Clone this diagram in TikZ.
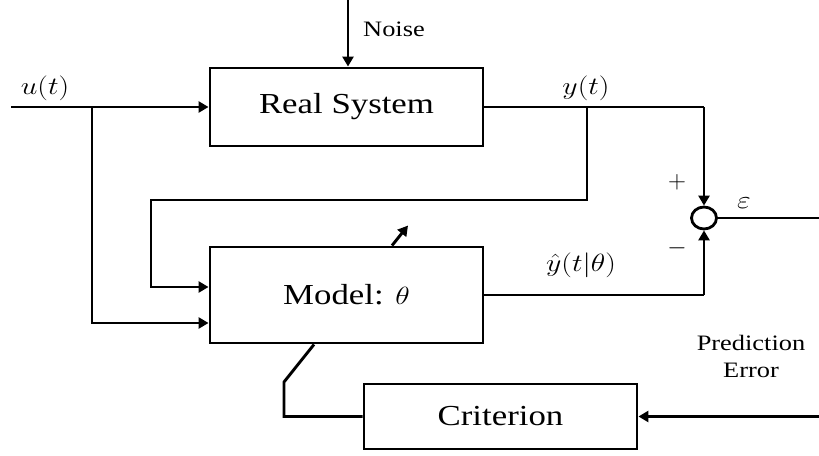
\documentclass[tikz,border=0pt]{standalone}
\usepackage{fontspec}
\usepackage{graphicx}
\setmainfont{Liberation Serif}
\usetikzlibrary{arrows.meta,shapes.geometric,calc}
\newcommand\wtxt[1]{\scalebox{1.2}[1]{#1}}
\tikzset{
  ln/.style={line width=2.9pt},
  arr/.style={ln,-{Triangle[length=10pt,width=11pt]}},
  blk/.style={draw,line width=2.9pt,rectangle,inner sep=0pt,font=\fontsize{29}{34}\selectfont},
  lbl/.style={inner sep=0pt,font=\fontsize{22}{27}\selectfont},
  mlbl/.style={inner sep=0pt,font=\fontsize{26}{30}\selectfont},
}
\begin{document}
\begin{tikzpicture}[x=1pt,y=-1pt]
\useasboundingbox (0,0) rectangle (819,455);
% blocks
\node[blk,minimum width=273pt,minimum height=78pt] (real) at (346.5,107) {\wtxt{Real System}};
\node[blk,minimum width=273pt,minimum height=96pt] (model) at (346.5,295) {\wtxt{Model: $\theta$}};
\node[blk,minimum width=273pt,minimum height=65pt] (crit) at (500.5,416.5) {\wtxt{Criterion}};
\node[draw,ellipse,line width=2.8pt,minimum width=25pt,minimum height=22pt,inner sep=0pt] (sum) at (704,218) {};
% coordinates
\coordinate (noisetop) at (348,0);
\coordinate (uin) at (11,107);
\coordinate (ju) at (92,107);
\coordinate (jy) at (587,107);
\coordinate (ycorner) at (704,107);
\coordinate (fb1) at (587,200);
\coordinate (fb2) at (151,200);
\coordinate (mcorner) at (704,295);
\coordinate (epsout) at (819,218);
\coordinate (peout) at (819,416.5);
\coordinate (kink) at (284,382);
% connectors
\draw[arr] (noisetop) -- (noisetop |- real.north);
\draw[arr] (uin) -- (real.west);
\draw[arr] (ju) |- ([yshift=-28pt]model.west);
\draw[ln] (real.east) -- (ycorner);
\draw[arr] (ycorner) -- (sum.north);
\draw[arr] (jy) -- (fb1) -- (fb2) |- ([yshift=8pt]model.west);
\draw[ln] (model.east) -- (mcorner);
\draw[arr] (mcorner) -- (sum.south);
\draw[ln] (sum.east) -- (epsout);
\draw[arr] (peout) -- (crit.east);
\draw[arr] ([xshift=45.5pt]model.north) -- ++(16,-20);
\draw[ln] ([xshift=-32.5pt]model.south) -- (kink) |- (crit.west);
% labels
\node[lbl] (noise) at (394,29) {\wtxt{Noise}};
\node[lbl,align=center] (pe) at (751,356.5) {\wtxt{Prediction}\\\wtxt{Error}};
\node[mlbl] (ul) at (45,88) {\wtxt{$u(t)$}};
\node[mlbl] (yl) at (586,88) {\wtxt{$y(t)$}};
\node[mlbl] (yhl) at (581,265) {\wtxt{$\hat{y}(t|\theta)$}};
\node[mlbl] (epsl) at (744,203) {\wtxt{$\varepsilon$}};
\node[mlbl,font=\fontsize{28}{30}\selectfont] (plus) at (677,182) {$+$};
\node[mlbl,font=\fontsize{28}{30}\selectfont] (minus) at (677,248) {$-$};
\end{tikzpicture}
\end{document}
